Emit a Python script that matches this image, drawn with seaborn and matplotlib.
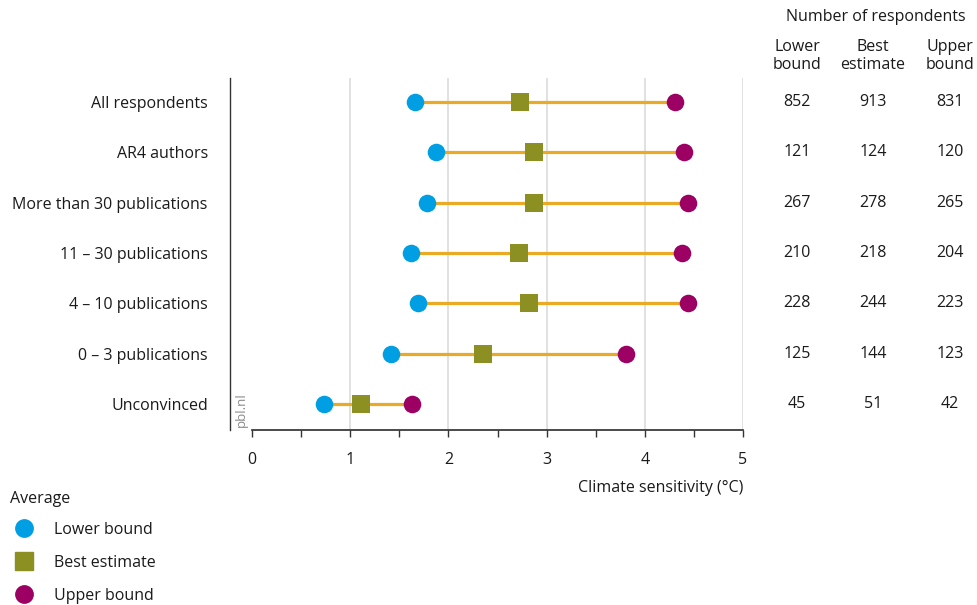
import matplotlib
matplotlib.use("Agg")
import matplotlib.pyplot as plt
from matplotlib.lines import Line2D
from matplotlib.ticker import MultipleLocator
from matplotlib.transforms import blended_transform_factory
import pandas as pd
import seaborn as sns

GROUPS = [
    "All respondents",
    "AR4 authors",
    "More than 30 publications",
    "11 – 30 publications",
    "4 – 10 publications",
    "0 – 3 publications",
    "Unconvinced",
]
LOWER = [1.66, 1.87, 1.78, 1.62, 1.69, 1.42, 0.73]
BEST = [2.73, 2.87, 2.87, 2.72, 2.82, 2.35, 1.11]
UPPER = [4.31, 4.40, 4.44, 4.38, 4.44, 3.81, 1.63]

N_LOWER = [852, 121, 267, 210, 228, 125, 45]
N_BEST = [913, 124, 278, 218, 244, 144, 51]
N_UPPER = [831, 120, 265, 204, 223, 123, 42]

SERIES = ["Lower bound", "Best estimate", "Upper bound"]
COLORS = {"Lower bound": "#009fe3", "Best estimate": "#8c8f22", "Upper bound": "#9b0062"}
MARKERS = {"Lower bound": "o", "Best estimate": "s", "Upper bound": "o"}
LINE_COLOR = "#e9ab26"
TEXT = "#1a1a1a"
FS = 11.5

df = pd.DataFrame({"Group": GROUPS, "Lower bound": LOWER, "Best estimate": BEST, "Upper bound": UPPER})
long_df = df.melt(id_vars="Group", value_vars=SERIES, var_name="Series", value_name="Value")

sns.set_theme(style="white")
plt.rcParams["font.family"] = ["Open Sans", "DejaVu Sans"]

fig = plt.figure(figsize=(9.77, 6.05), dpi=100)
W, H = 977, 605
ax = fig.add_axes([230 / W, 1 - 430 / H, (743 - 230) / W, (430 - 78) / H])

# connecting bars from lower to upper bound
for i, row in df.iterrows():
    ax.plot([row["Lower bound"], row["Upper bound"]], [i, i], color=LINE_COLOR, lw=2.3, zorder=2,
            solid_capstyle="butt")

y_map = {g: i for i, g in enumerate(GROUPS)}
long_df["Y"] = long_df["Group"].map(y_map)
for s in SERIES:
    sub = long_df[long_df["Series"] == s]
    sns.scatterplot(data=sub, x="Value", y="Y", color=COLORS[s], marker=MARKERS[s],
                    s=160 if s != "Best estimate" else 165, linewidth=0,
                    ax=ax, zorder=3, clip_on=False, legend=False)

x0 = -(252 - 230) / ((743 - 252) / 5)
ax.set_xlim(x0, 5)
ax.set_ylim(6.52, -0.48)
ax.set_xticks(range(0, 6))
ax.xaxis.set_minor_locator(MultipleLocator(0.5))
ax.set_xticklabels([str(v) for v in range(0, 6)], fontsize=FS, color=TEXT)
ax.tick_params(axis="x", which="both", bottom=True, direction="out", length=5, width=1,
               color="#333333", pad=11)
ax.set_yticks(range(len(GROUPS)))
ax.set_yticklabels(GROUPS, fontsize=FS, color=TEXT)
ax.tick_params(axis="y", length=0, pad=16)
for v in range(1, 6):
    ax.axvline(v, color="#dcdcdc", lw=1.2, zorder=0)
for side in ["top", "right"]:
    ax.spines[side].set_visible(False)
ax.spines["bottom"].set_bounds(0, 5)
ax.spines["bottom"].set_color("#333333")
ax.spines["left"].set_color("#333333")
ax.spines["left"].set_linewidth(1)
ax.set_xlabel("")
ax.set_ylabel("")
fig.text(743 / W, 1 - 488 / H, "Climate sensitivity (°C)", ha="right", va="center", fontsize=FS, color=TEXT)
fig.text(241 / W, 1 - 410 / H, "pbl.nl", rotation=90, ha="center", va="center", fontsize=9.5, color="#8a8a8a")

# respondents table
col_x = [797, 873, 950]
fig.text(876 / W, 1 - 17 / H, "Number of respondents", ha="center", va="center", fontsize=FS, color=TEXT)
for cx, hdr in zip(col_x, ["Lower\nbound", "Best\nestimate", "Upper\nbound"]):
    fig.text(cx / W, 1 - 56 / H, hdr, ha="center", va="center", fontsize=FS, color=TEXT, linespacing=1.1)
row_trans = blended_transform_factory(fig.transFigure, ax.transData)
for cx, counts in zip(col_x, [N_LOWER, N_BEST, N_UPPER]):
    for i, n in enumerate(counts):
        ax.text(cx / W, i, str(n), transform=row_trans, ha="center", va="center", fontsize=FS, color=TEXT)

# legend
fig.text(10 / W, 1 - 499 / H, "Average", ha="left", va="center", fontsize=FS, color=TEXT)
handles = [Line2D([0], [0], marker=MARKERS[s], linestyle="None", markerfacecolor=COLORS[s],
                  markeredgecolor=COLORS[s], markersize=12.5, label=s)
           for s in SERIES]
leg = fig.legend(handles=handles, loc="upper left", bbox_to_anchor=(-2 / W, 1 - 509 / H),
                 frameon=False, fontsize=FS, handletextpad=1.1, labelspacing=1.07,
                 handlelength=1.6, borderpad=0.3)
for t in leg.get_texts():
    t.set_color(TEXT)

fig.savefig("out.png", dpi=100)
